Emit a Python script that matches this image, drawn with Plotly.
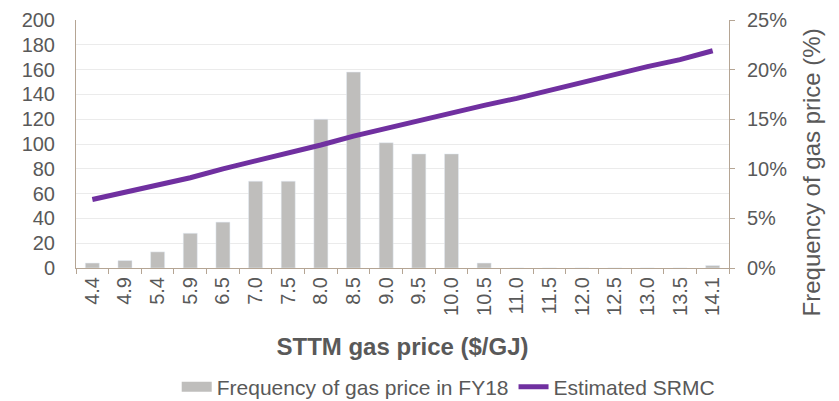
import plotly.graph_objects as go

prices = ["4.4", "4.9", "5.4", "5.9", "6.5", "7.0", "7.5", "8.0", "8.5", "9.0",
          "9.5", "10.0", "10.5", "11.0", "11.5", "12.0", "12.5", "13.0", "13.5", "14.1"]
frequency = [4, 6, 13, 28, 37, 70, 70, 120, 158, 101,
             92, 92, 4, 0, 0, 0, 0, 0, 0, 2]
srmc_pct = [6.9, 7.6, 8.4, 9.1, 10.0, 10.8, 11.5, 12.4, 13.3, 14.1,
            14.9, 15.6, 16.4, 17.1, 17.9, 18.8, 19.5, 20.3, 21.0, 21.9]

grey = "#595959"
axis_col = "#b5a594"
bar_col = "#bfbebc"

fig = go.Figure()
fig.add_trace(go.Bar(x=prices, y=frequency, name="Frequency of gas price in FY18",
                     marker_color=bar_col, yaxis="y", showlegend=False))
# legend proxy so the swatch is a wide block like the original
fig.add_trace(go.Scatter(x=[None], y=[None], name="Frequency of gas price in FY18",
                         mode="lines", line=dict(color=bar_col, width=14)))
fig.add_trace(go.Scatter(x=prices, y=srmc_pct, name="Estimated SRMC", mode="lines",
                         line=dict(color="#7030a0", width=5), yaxis="y2"))

# right-hand axis title sits a bit below the middle in the original
fig.add_annotation(text="Frequency of gas price (%)", textangle=-90, xref="paper", yref="paper",
                   x=1.127, y=0.385, xanchor="center", yanchor="middle", showarrow=False,
                   font=dict(size=24, color=grey))

# page body adds 8px, so the figure is 8px smaller each way
fig.update_layout(
    width=831, height=393,
    margin=dict(l=68, r=110, t=12, b=133, autoexpand=False),
    plot_bgcolor="white", paper_bgcolor="white",
    font=dict(family="Liberation Sans, Arial", color=grey, size=20),
    bargap=0.57,
    showlegend=True,
    legend=dict(orientation="h", x=0.57, xanchor="center", y=-0.48, yanchor="middle",
                font=dict(size=21, color=grey), tracegroupgap=0),
    xaxis=dict(type="category", tickangle=-90, ticks="outside", tickson="boundaries",
               ticklen=5, tickcolor=axis_col, showline=True, linecolor=axis_col,
               tickfont=dict(size=20, color=grey),
               title=dict(text="<b>STTM gas price ($/GJ)</b>", font=dict(size=24, color=grey),
                          standoff=23)),
    yaxis=dict(range=[0, 200], dtick=20, showgrid=True, gridcolor="#ebebeb",
               showline=True, linecolor=axis_col, zeroline=False, ticklabelstandoff=16,
               ticklabeloverflow="allow", tickfont=dict(size=20, color=grey)),
    yaxis2=dict(range=[0, 25], dtick=5, ticksuffix="%", overlaying="y", side="right",
                showgrid=False, showline=True, linecolor=axis_col, ticks="outside",
                ticklen=5, tickcolor=axis_col, zeroline=False, ticklabelstandoff=8,
                ticklabeloverflow="allow", tickfont=dict(size=20, color=grey)),
)

fig.write_html("out.html")
